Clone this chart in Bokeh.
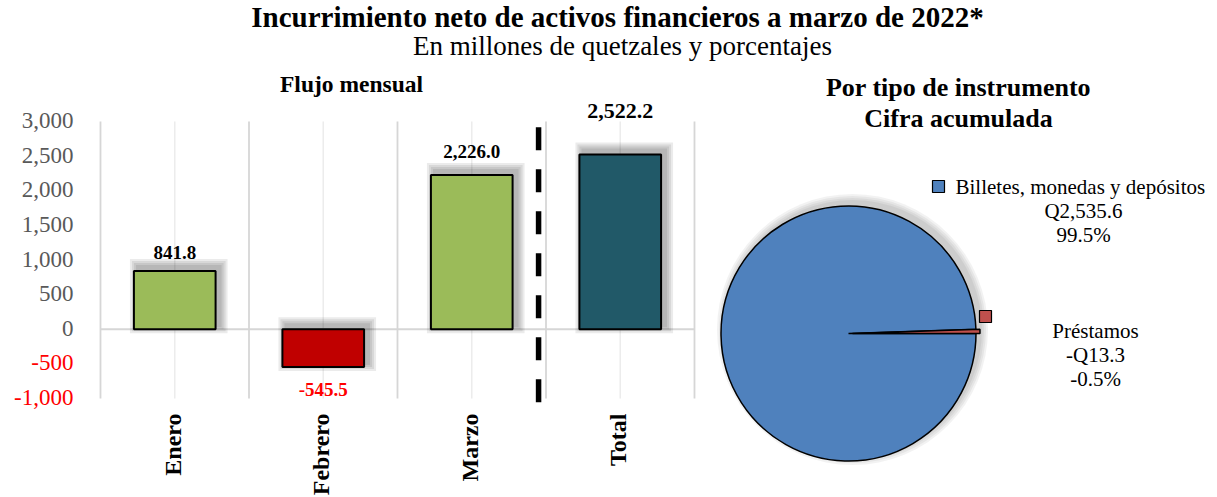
import math
from bokeh.plotting import figure
from bokeh.models import Range1d, ColumnDataSource
from bokeh.core.properties import value
from bokeh.embed import file_html
from bokeh.resources import INLINE

# ---------------- data ----------------
months = ["Enero", "Febrero", "Marzo", "Total"]
flows = [841.8, -545.5, 2226.0, 2522.2]
bar_colors = ["#9BBB59", "#C00000", "#9BBB59", "#215968"]
y_ticks = [3000, 2500, 2000, 1500, 1000, 500, 0, -500, -1000]

instruments = ["Billetes, monedas y depósitos", "Préstamos"]
amounts = [2535.6, -13.3]
shares = [99.5, -0.5]
pie_colors = ["#4F81BD", "#C0504D"]

title = "Incurrimiento neto de activos financieros a marzo de 2022*"
subtitle = "En millones de quetzales y porcentajes"
left_title = "Flujo mensual"
right_title = ["Por tipo de instrumento", "Cifra acumulada"]

# ---------------- layout ----------------
W, H = 1217, 497
FONT = value("Liberation Serif")


def Y(img_y):
    return H - img_y


p = figure(width=W, height=H, x_range=Range1d(0, W), y_range=Range1d(0, H),
           output_backend="svg", toolbar_location=None, min_border=0,
           x_axis_location=None, y_axis_location=None)
p.outline_line_color = None
p.background_fill_color = "white"
for g in p.grid:
    g.visible = False

# bar panel scales: category index -> pixels, value -> pixels
cat_x0, cat_w = 174.25, 148.5
ax_top, ax_bot = 121.0, 398.0
vmax, vmin = 3000.0, -1000.0
k = (ax_bot - ax_top) / (vmax - vmin)
zero_img = ax_top + vmax * k
p.extra_x_ranges = {"bx": Range1d((0 - cat_x0) / cat_w, (W - cat_x0) / cat_w)}
p.extra_y_ranges = {"by": Range1d((0 - (H - zero_img)) / k, (H - (H - zero_img)) / k)}
B = dict(x_range_name="bx", y_range_name="by")

n = len(months)
idx = list(range(n))

# grid lines
for i in range(n + 1):
    p.line([i - 0.5, i - 0.5], [vmin, vmax], line_color="#d6d6d6", line_width=1.8, **B)
for i in idx:
    p.line([i, i], [vmin, vmax], line_color="#ececec", line_width=1.5, **B)
p.line([-0.5, n - 0.5], [0, 0], line_color="#d6d6d6", line_width=2, **B)

# bar shadows (layered to look blurred)
bw = 0.55
dxp, dyp = 4.0, 4.0
for s in [8, 6, 4, 2]:
    left = [i - bw / 2 + (dxp - s) / cat_w for i in idx]
    right = [i + bw / 2 + (dxp + s) / cat_w for i in idx]
    top = [max(v, 0) + (dyp + s) / k for v in flows]
    bottom = [min(v, 0) + (dyp - s) / k for v in flows]
    p.quad(left=left, right=right, top=top, bottom=bottom, fill_color="black",
           fill_alpha=0.08, line_color=None, **B)

src = ColumnDataSource(dict(x=idx, top=flows, color=bar_colors))
p.vbar(x="x", top="top", bottom=0, width=bw, fill_color="color", line_color="black",
       line_width=2, source=src, **B)

# divider
p.line([2.45, 2.45], [2917, -1054], line_color="black", line_width=5.5,
       line_dash="23 19", **B)

# y tick labels
tick_txt = [f"{t:,}" for t in y_ticks]
tick_col = ["#ff0000" if t < 0 else "#595959" for t in y_ticks]
p.text(x=[-0.5] * len(y_ticks), y=y_ticks, text=tick_txt, text_color=tick_col,
       x_offset=-27, y_offset=-1, text_align="right", text_baseline="middle",
       text_font=FONT, text_font_size=value("23px"), **B)

# category labels
p.text(x=idx, y=[vmin] * n, text=months, angle=math.pi / 2, y_offset=15, x_offset=-2,
       text_align="right", text_baseline="middle", text_font=FONT,
       text_font_style="bold", text_font_size=value("24px"), text_color="black", **B)

# bar value labels
label_dy = [-18, 22, -24, -44]
label_size = ["19px", "19px", "19px", "22px"]
lab_src = ColumnDataSource(dict(
    x=idx, y=flows, text=[f"{v:,.1f}" for v in flows],
    color=["#ff0000" if v < 0 else "black" for v in flows],
    dy=label_dy, size=label_size))
p.text(x="x", y="y", text="text", text_color="color", y_offset="dy",
       text_font_size="size", source=lab_src,
       text_align="center", text_baseline="middle", text_font=FONT,
       text_font_style="bold", **B)

# ---------------- titles ----------------
p.text(x=[617], y=[Y(16)], text=[title], text_align="center", text_baseline="middle",
       text_font=FONT, text_font_style="bold", text_font_size=value("29px"), text_color="black")
p.text(x=[622], y=[Y(45)], text=[subtitle], text_align="center", text_baseline="middle",
       text_font=FONT, text_font_size=value("27px"), text_color="black")
p.text(x=[351], y=[Y(83)], text=[left_title], text_align="center", text_baseline="middle",
       text_font=FONT, text_font_style="bold", text_font_size=value("23.5px"), text_color="black")
p.text(x=[958, 958], y=[Y(87), Y(118)], text=right_title, text_align="center",
       text_baseline="middle", text_font=FONT, text_font_style="bold",
       text_font_size=value("26px"), text_color="black")

# ---------------- pie ----------------
cx, cy, r = 848.0, Y(333), 127.5
absv = [abs(a) for a in amounts]
tot = sum(absv)
frac = [a / tot for a in absv]
red_end = 2 * math.pi * frac[1]
starts = [red_end, 0.0]
ends = [2 * math.pi, red_end]
explode = [0.0, 4.0]
mids = [(s + e) / 2 for s, e in zip(starts, ends)]
wx = [cx + ex * math.cos(m) for ex, m in zip(explode, mids)]
wy = [cy + ex * math.sin(m) for ex, m in zip(explode, mids)]

# pie shadow
for s in [8, 6, 4, 2]:
    p.circle(x=[cx + 4], y=[cy + 4], radius=r + s, fill_color="black", fill_alpha=0.05,
             line_color=None)

p.wedge(x=wx, y=wy, radius=r, start_angle=starts, end_angle=ends,
        fill_color=pie_colors, line_color="black", line_width=1.5)

# legend markers
p.scatter(x=[938, 985], y=[Y(186), Y(316)], marker="square", size=12,
          fill_color=pie_colors, line_color="black", line_width=1.2)


def money(a):
    return ("-" if a < 0 else "") + f"Q{abs(a):,.1f}"


p.text(x=[955], y=[Y(186)], text=[instruments[0]], text_align="left", text_baseline="middle",
       text_font=FONT, text_font_size=value("21px"), text_color="black")
p.text(x=[1083, 1083], y=[Y(210), Y(234)], text=[money(amounts[0]), f"{shares[0]:.1f}%"],
       text_align="center", text_baseline="middle", text_font=FONT,
       text_font_size=value("21px"), text_color="black")
p.text(x=[1095, 1095, 1095], y=[Y(330), Y(354), Y(378)],
       text=[instruments[1], money(amounts[1]), f"{shares[1]:.1f}%"],
       text_align="center", text_baseline="middle", text_font=FONT,
       text_font_size=value("21px"), text_color="black")

open("out.html", "w").write(file_html(p, INLINE))
